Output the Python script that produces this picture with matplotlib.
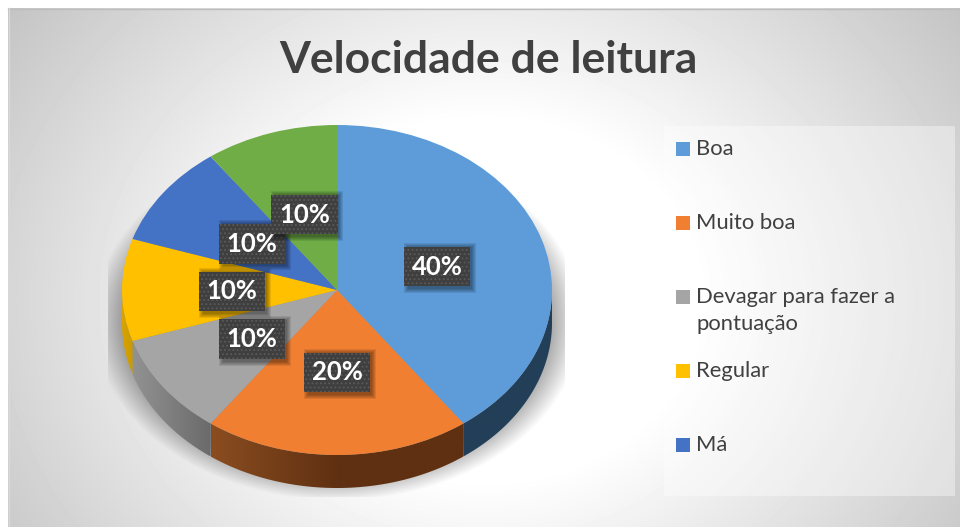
import numpy as np
import matplotlib
matplotlib.use("Agg")
import matplotlib.pyplot as plt
from matplotlib.colors import LinearSegmentedColormap
from matplotlib.patches import Rectangle, Polygon
from matplotlib.transforms import ScaledTranslation

TITLE = "Velocidade de leitura"
categories = ["Boa", "Muito boa", "Devagar para fazer a\npontuação", "Regular", "Má", "Péssima"]
values = [40, 20, 10, 10, 10, 10]
colors = ["#5D9CD9", "#F07F32", "#A5A5A5", "#FFC000", "#4472C4", "#70AD47"]
side_stops = [["#233F58", "#233F58"],
              ["#8A4D20", "#5F3011", "#5F3011"],
              ["#929292", "#6A6A6A"],
              ["#D9A300", "#C99A00"],
              ["#2A4A80", "#2A4A80"],
              ["#44692B", "#44692B"]]
legend_count = 5

W, H = 960, 527
CX, CY, RX, RY, DEPTH = 337, 290, 215, 165, 33
plt.rcParams["font.family"] = ["Lato", "DejaVu Sans"]
plt.rcParams["hatch.linewidth"] = 0.8
fig = plt.figure(figsize=(W / 100, H / 100), dpi=100, facecolor="white")

# ---- background (pixel coordinates)
bg = fig.add_axes([0, 0, 1, 1])
bg.set_xlim(0, W); bg.set_ylim(H, 0); bg.axis("off")
yy, xx = np.mgrid[8:527, 8:960]
d = np.hypot((xx - 484) / 476, (yy - 300) / 400)
g = 255 - 75 * np.clip(d - 0.45, 0, None)
bg.imshow(g, extent=(8, 960, 527, 8), cmap="gray", vmin=0, vmax=255, aspect="auto", zorder=1)
bg.plot([8, 960], [8.5, 8.5], color="#BDBDBD", lw=1, zorder=2)
bg.plot([8.5, 8.5], [8, 527], color="#D8D8D8", lw=1, zorder=2)

# pie shadow
sy, sx = np.mgrid[125:497, 108:565]
r = np.hypot((sx - CX) / 245.0, (sy - 320) / 180.0)
a = 0.40 * np.clip((1 - r) / 0.15, 0, 1)
rgba = np.zeros(r.shape + (4,))
rgba[..., 3] = a
bg.imshow(rgba, extent=(108, 565, 497, 125), aspect="auto", zorder=3)
bg.set_xlim(0, W); bg.set_ylim(H, 0)

# ---- pie
LIM = 1.25
ax = fig.add_axes([(CX - LIM * RX) / W, 1 - (CY + LIM * RY) / H, 2 * LIM * RX / W, 2 * LIM * RY / H])
wedges, _, autotexts = ax.pie(values, colors=colors, startangle=90, counterclock=False,
                              autopct="%d%%", pctdistance=0.49,
                              wedgeprops=dict(linewidth=0, zorder=3))
ax.set_aspect("auto")
ax.set_xlim(-LIM, LIM); ax.set_ylim(-LIM, LIM)

# 3-D rim
dz = DEPTH / RY
edges = np.cumsum([0] + values) / sum(values) * 360.0
for i in range(len(values)):
    p0, p1 = max(edges[i], 90.0), min(edges[i + 1], 270.0)
    if p1 <= p0:
        continue
    phi = np.radians(np.linspace(p0, p1, 100))
    px, py = np.sin(phi), np.cos(phi)
    poly = Polygon(np.r_[np.c_[px, py], np.c_[px[::-1], py[::-1] - dz]], closed=True,
                   transform=ax.transData, fc="none", ec="none")
    ax.add_patch(poly)
    cmap = LinearSegmentedColormap.from_list(f"s{i}", side_stops[i])
    im = ax.imshow(np.linspace(0, 1, 256)[None, :], cmap=cmap, aspect="auto", zorder=2,
                   extent=(px.min(), px.max(), py.min() - dz, py.max()))
    im.set_clip_path(poly)
ax.set_xlim(-LIM, LIM); ax.set_ylim(-LIM, LIM)
ax.set_aspect("auto")

# data labels
FS = 18.5
PAD = 0.3
BOXW, BOXH = 64 / RX, 42 / RY
off = ScaledTranslation(3 / 100, -3 / 100, fig.dpi_scale_trans)
for i, t in enumerate(autotexts):
    x, y = t.get_position()
    base = 5 + 2 * i
    for grow in [4, 3, 2, 1, 0]:
        gx, gy = grow / RX, grow / RY
        ax.add_patch(Rectangle((x - BOXW / 2 - gx, y - BOXH / 2 - gy), BOXW + 2 * gx, BOXH + 2 * gy,
                               transform=ax.transData + off, fc="black", ec="none", alpha=0.09, zorder=base))
    t.set(fontsize=FS, fontweight="bold", color="white", ha="center", va="center", zorder=base + 1)
    t.set_position((x, y - 1.5 / RY))
    t.set_bbox(dict(boxstyle=f"square,pad={PAD}", fc="#3F3F3F", ec="#5A5A5A", lw=0, hatch="...."))

# ---- title and legend
fg = fig.add_axes([0, 0, 1, 1])
fg.set_xlim(0, W); fg.set_ylim(H, 0); fg.axis("off"); fg.patch.set_alpha(0)
fg.text(488, 60, TITLE, fontsize=32, fontweight="bold", color="#404040", ha="center", va="center")
fg.add_patch(Rectangle((664, 126), 291, 370, fc="white", ec="none", alpha=0.38))
for i in range(legend_count):
    ym = 149 + 74 * i
    fg.add_patch(Rectangle((676, ym - 7), 14, 14, fc=colors[i], ec="none"))
    fg.text(696, ym - 10, categories[i], fontsize=15.8, color="#404040", ha="left", va="top", linespacing=1.45)

fig.savefig("out.png", dpi=100)
